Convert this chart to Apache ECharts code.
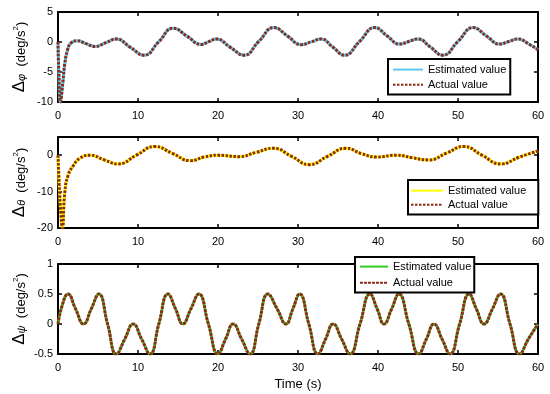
<!DOCTYPE html>
<html><head><meta charset="utf-8">
<script src="https://cdn.jsdelivr.net/npm/echarts@6/dist/echarts.min.js"></script>
<style>html,body{margin:0;padding:0;background:#fff}#c{width:550px;height:394px}</style>
</head><body><div id="c"></div>
<script>
// ---- data ----
const xTickLabels = ['0','10','20','30','40','50','60'];
const legendNames = ['Estimated value', 'Actual value'];

// Δφ panel
const tPhi = [0,0.1,0.3,0.6,0.85,1.2,1.6,2.4,3.5,4.6,6.0,7.3,9.0,10.75,12.6,14.4,16.15,17.9,18.85,19.8,21.5,23.25,25.1,27.0,28.7,30.4,31.65,32.9,34.35,35.8,37.7,39.6,41.15,42.7,43.85,45.0,46.55,48.1,50.0,51.9,53.55,55.2,56.35,57.5,58.8,60];
const vPhi = [0,-5,-10,-6.8,-3.6,-1.3,-0.2,0.2,-0.27,-0.75,-0.1,0.5,-0.85,-2.2,0.05,2.3,0.95,-0.4,0.05,0.5,-0.85,-2.2,0.1,2.4,0.98,-0.45,0.02,0.5,-0.85,-2.2,0.1,2.4,1.0,-0.35,0.08,0.5,-0.85,-2.2,0.1,2.4,1.0,-0.35,0.08,0.5,-0.3,-1.3];
const yTicksPhi = [-10,-5,0,5];

// Δθ panel
const tTheta = [0,0.15,0.35,0.55,0.85,1.25,1.9,2.7,4.0,5.8,7.5,9.8,12.1,14.3,16.5,18.3,20.0,22.6,24.8,26.9,29.2,31.4,33.7,36.0,38.0,39.8,42.3,44.3,46.3,48.6,50.7,53.0,55.3,57.7,60];
const vTheta = [0,-8,-16,-20,-10.2,-5.6,-2.9,-0.9,0.0,-1.3,-2.4,0.0,2.4,0.5,-1.5,-0.5,0.0,-0.4,0.8,1.9,-0.3,-2.6,-0.3,1.9,0.4,-0.5,0.0,-0.7,-1.3,0.6,2.4,0.0,-2.4,-0.5,1.2];
const yTicksTheta = [-20,-10,0];

// Δψ panel
const tPsi = [0,0.5,1.25,2.2,3.2,4.15,5.1,6.2,7.3,8.35,9.4,10.45,11.5,12.6,13.75,14.7,15.6,16.6,17.6,18.8,20,20.95,21.9,22.95,24,25.1,26.25,27.4,28.5,29.35,30.2,31.35,32.5,33.45,34.4,35.45,36.5,37.75,39,39.9,40.75,41.7,42.6,43.85,45.1,46.05,47,48,49,50.2,51.4,52.3,53.25,54.3,55.3,56.5,57.7,58.8,60];
const vPsi = [0,0.3,0.5,0.25,0,0.25,0.5,0,-0.5,-0.25,0,-0.25,-0.5,0,0.5,0.25,0,0.25,0.5,0,-0.5,-0.25,0,-0.25,-0.5,0,0.5,0.25,0,0.25,0.5,0,-0.5,-0.25,0,-0.25,-0.5,0,0.5,0.25,0,0.25,0.5,0,-0.5,-0.25,0,-0.25,-0.5,0,0.5,0.25,0,0.25,0.5,0,-0.5,-0.25,0];
const yTicksPsi = [-0.5,0,0.5,1];

// ---- chart ----
const FONT = 'Arial, "Liberation Sans", sans-serif';
const panels = [
  {t:tPhi, v:vPhi, ticks:yTicksPhi, max:5, sym:'φ', est:'#5cc8f0', estW:3, top:12, height:90, dash:[2.5,1.5],
   legend:{left:388, top:59, padding:[5,4,4,4], itemGap:4, itemWidth:30, itemTextGap:2}},
  {t:tTheta, v:vTheta, ticks:yTicksTheta, max:5, sym:'θ', est:'#ffff00', estW:3, top:137, height:91, dash:[2.5,1.5],
   legend:{left:408, top:180, padding:[5,12,4,2], itemGap:3, itemWidth:32, itemTextGap:2}},
  {t:tPsi, v:vPsi, ticks:yTicksPsi, max:1, sym:'ψ', est:'#33cc22', estW:2.5, top:264, height:90, dash:[3,1],
   legend:{left:355, top:257, padding:[4,3,4,4], itemGap:5, itemWidth:28, itemTextGap:3}}
];
const actColor = '#8f2a18';

const grid = [], xAxis = [], yAxis = [], series = [], legend = [];
const axLine = {show:true, onZero:false, lineStyle:{color:'#000', width:2}};
const axTick = {show:true, inside:true, length:4, lineStyle:{color:'#000', width:1.5}};

panels.forEach((p, i) => {
  grid.push({left:58, width:480, top:p.top, height:p.height, containLabel:false, outerBoundsMode:'none'});
  const ymin = p.ticks[0];
  const step = p.ticks[1] - p.ticks[0];
  const base = {gridIndex:i, type:'value', min:0, max:60, interval:10,
    axisLine:axLine, axisTick:axTick, splitLine:{show:false}};
  xAxis.push(Object.assign({}, base, {position:'bottom',
    axisLabel:{color:'#000', fontSize:11, fontFamily:FONT, margin:8,
      formatter: (val) => xTickLabels[Math.round(val/10)] }},
    i === 2 ? {name:'Time (s)', nameLocation:'middle', nameGap:24, nameMoveOverlap:false,
      nameTextStyle:{color:'#000', fontSize:13, fontFamily:FONT}} : {}));
  xAxis.push(Object.assign({}, base, {position:'top', axisLabel:{show:false}}));
  const ybase = {gridIndex:i, type:'value', min:ymin, max:p.max, interval:step,
    axisLine:axLine, axisTick:axTick, splitLine:{show:false}};
  yAxis.push(Object.assign({}, ybase, {position:'left',
    axisLabel:{color:'#000', fontSize:11, fontFamily:FONT, margin:5, showMaxLabel: p.ticks.indexOf(p.max) >= 0},
    name:'{d|Δ}{s|' + p.sym + '}{n|  (deg/s}{p|2}{n|)}',
    nameLocation:'middle', nameRotate:90, nameGap:30.5, nameMoveOverlap:false,
    nameTextStyle:{color:'#000', fontFamily:FONT, lineHeight:22, rich:{
      d:{fontSize:17, lineHeight:20, verticalAlign:'bottom', fontFamily:FONT, color:'#000'},
      s:{fontSize:11, lineHeight:8, fontStyle:'italic', verticalAlign:'bottom', fontFamily:FONT, color:'#000'},
      n:{fontSize:13, lineHeight:17, verticalAlign:'bottom', fontFamily:FONT, color:'#000'},
      p:{fontSize:8, lineHeight:12, verticalAlign:'bottom', padding:[0,0,7.5,0], fontFamily:FONT, color:'#000'}
    }}}));
  yAxis.push(Object.assign({}, ybase, {position:'right', axisLabel:{show:false}}));

  const data = p.t.map((t, k) => [t, p.v[k]]);
  const n1 = legendNames[0] + ' ' + (i+1), n2 = legendNames[1] + ' ' + (i+1);
  series.push({name:n1, type:'line', xAxisIndex:2*i, yAxisIndex:2*i, data, smooth:0.5,
    symbol:'none', lineStyle:{color:p.est, width:p.estW}, itemStyle:{color:p.est}, z:2});
  series.push({name:n2, type:'line', xAxisIndex:2*i, yAxisIndex:2*i, data, smooth:0.5,
    symbol:'none', lineStyle:{color:actColor, width:3, type:p.dash}, itemStyle:{color:actColor}, z:3});
  legend.push(Object.assign({data:[n1, n2], orient:'vertical', itemHeight:14,
    borderColor:'#000', borderWidth:2, backgroundColor:'#fff', borderRadius:0,
    selectedMode:false, formatter:(nm) => nm.replace(/ \d$/, ''),
    itemStyle:{opacity:0},
    textStyle:{color:'#000', fontSize:11, fontFamily:FONT}}, p.legend));
});

const chart = echarts.init(document.getElementById('c'), null, {renderer:'canvas'});
chart.setOption({animation:false, backgroundColor:'#fff', grid, xAxis, yAxis, series, legend});
</script>
</body></html>
